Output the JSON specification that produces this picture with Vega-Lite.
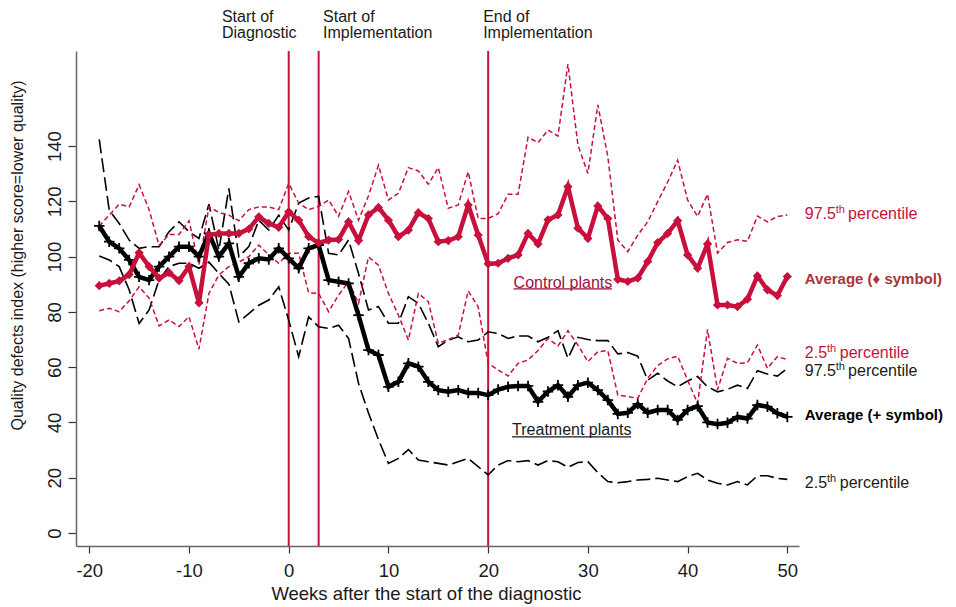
{
  "$schema": "https://vega.github.io/schema/vega-lite/v6.json",
  "width": 723,
  "height": 495,
  "autosize": {"type": "none"},
  "padding": {"left": 76, "top": 51, "right": 157, "bottom": 61},
  "background": "white",
  "config": {
    "font": "Liberation Sans",
    "view": {"stroke": null},
    "axis": {"grid": false}
  },
  "datasets": {
    "series": [
      {"week": -19, "ca": 89.5, "ch": 111, "cl": 80.4, "ta": 111.1, "th": 142.4, "tl": 100.2},
      {"week": -18, "ca": 90.3, "ch": 115, "cl": 81.3, "ta": 105.4, "th": 116.8, "tl": 98.8},
      {"week": -17, "ca": 91.2, "ch": 119, "cl": 80.1, "ta": 103, "th": 112, "tl": 96.4},
      {"week": -16, "ca": 93.5, "ch": 118, "cl": 84, "ta": 98.8, "th": 106, "tl": 88},
      {"week": -15, "ca": 101.4, "ch": 126, "cl": 89.1, "ta": 92.7, "th": 103, "tl": 75.8},
      {"week": -14, "ca": 96.4, "ch": 117, "cl": 85, "ta": 91.5, "th": 103.6, "tl": 80.7},
      {"week": -13, "ca": 92.2, "ch": 104, "cl": 74.9, "ta": 96.4, "th": 103.6, "tl": 91.5},
      {"week": -12, "ca": 94.2, "ch": 108, "cl": 77.1, "ta": 100, "th": 109, "tl": 96.4},
      {"week": -11, "ca": 91.3, "ch": 108, "cl": 74.7, "ta": 103.6, "th": 112.6, "tl": 97.6},
      {"week": -10, "ca": 96.4, "ch": 113, "cl": 78.3, "ta": 103.6, "th": 109, "tl": 97.6},
      {"week": -9, "ca": 83.3, "ch": 97, "cl": 66.5, "ta": 100, "th": 106.6, "tl": 95.8},
      {"week": -8, "ca": 107.8, "ch": 118, "cl": 86.7, "ta": 108.4, "th": 119, "tl": 98},
      {"week": -7, "ca": 108.4, "ch": 116, "cl": 93.4, "ta": 100, "th": 102.4, "tl": 93.9},
      {"week": -6, "ca": 108.4, "ch": 115, "cl": 96.4, "ta": 104.8, "th": 124.7, "tl": 90},
      {"week": -5, "ca": 108.4, "ch": 113, "cl": 98, "ta": 92.7, "th": 100, "tl": 76.4},
      {"week": -4, "ca": 110, "ch": 117, "cl": 100, "ta": 97.6, "th": 103.6, "tl": 79.4},
      {"week": -3, "ca": 114.4, "ch": 118, "cl": 104.2, "ta": 99.4, "th": 113.2, "tl": 82.4},
      {"week": -2, "ca": 112, "ch": 118, "cl": 100.6, "ta": 99, "th": 109.6, "tl": 84.3},
      {"week": -1, "ca": 110.6, "ch": 117, "cl": 97.6, "ta": 103, "th": 115, "tl": 89.1},
      {"week": 0, "ca": 116.2, "ch": 126.5, "cl": 101.2, "ta": 99.4, "th": 109.6, "tl": 77},
      {"week": 1, "ca": 113.2, "ch": 119.4, "cl": 101.2, "ta": 95.8, "th": 119.4, "tl": 63.8},
      {"week": 2, "ca": 107.2, "ch": 117, "cl": 86.9, "ta": 103, "th": 121.2, "tl": 78.2},
      {"week": 3, "ca": 105, "ch": 118.2, "cl": 86.7, "ta": 104.2, "th": 121.8, "tl": 74.6},
      {"week": 4, "ca": 106, "ch": 120.5, "cl": 80.1, "ta": 91.5, "th": 101.2, "tl": 74},
      {"week": 5, "ca": 106.2, "ch": 114.6, "cl": 86.1, "ta": 90.9, "th": 100.6, "tl": 75.2},
      {"week": 6, "ca": 112.6, "ch": 123.6, "cl": 90.9, "ta": 90.3, "th": 106, "tl": 70.4},
      {"week": 7, "ca": 105.8, "ch": 113.2, "cl": 83.1, "ta": 78.8, "th": 93.9, "tl": 54.2},
      {"week": 8, "ca": 115.1, "ch": 122, "cl": 99.9, "ta": 66.2, "th": 80.7, "tl": 43.4},
      {"week": 9, "ca": 117.8, "ch": 133.1, "cl": 96.9, "ta": 64.4, "th": 81.9, "tl": 33.8},
      {"week": 10, "ca": 113.2, "ch": 120.5, "cl": 86.7, "ta": 52.9, "th": 75.9, "tl": 25.2},
      {"week": 11, "ca": 107.2, "ch": 122.9, "cl": 78.8, "ta": 54.7, "th": 75.9, "tl": 27},
      {"week": 12, "ca": 109.6, "ch": 132.2, "cl": 69.8, "ta": 61.4, "th": 85.5, "tl": 30.2},
      {"week": 13, "ca": 115.9, "ch": 131, "cl": 86.7, "ta": 60.2, "th": 83.1, "tl": 26.4},
      {"week": 14, "ca": 113.8, "ch": 126.2, "cl": 83.7, "ta": 54.7, "th": 75.9, "tl": 25.8},
      {"week": 15, "ca": 105.4, "ch": 132.2, "cl": 68.6, "ta": 51.7, "th": 67.4, "tl": 25.2},
      {"week": 16, "ca": 105.8, "ch": 117.5, "cl": 70, "ta": 51.1, "th": 69.8, "tl": 24.6},
      {"week": 17, "ca": 107.2, "ch": 118.7, "cl": 71.6, "ta": 51.7, "th": 71, "tl": 25.8},
      {"week": 18, "ca": 118.7, "ch": 130.7, "cl": 87.6, "ta": 50.7, "th": 69.2, "tl": 27},
      {"week": 19, "ca": 107.8, "ch": 113.8, "cl": 81.8, "ta": 50.7, "th": 69.8, "tl": 24},
      {"week": 20, "ca": 97.4, "ch": 113.8, "cl": 61.4, "ta": 49.9, "th": 72.8, "tl": 21},
      {"week": 21, "ca": 97.6, "ch": 115.5, "cl": 59, "ta": 51.9, "th": 72.2, "tl": 24.6},
      {"week": 22, "ca": 99.4, "ch": 122.6, "cl": 56.8, "ta": 52.9, "th": 70.4, "tl": 26.2},
      {"week": 23, "ca": 100.6, "ch": 122.6, "cl": 61.4, "ta": 53.2, "th": 71.3, "tl": 25.8},
      {"week": 24, "ca": 108.4, "ch": 143.2, "cl": 62.6, "ta": 53.2, "th": 71.3, "tl": 26.2},
      {"week": 25, "ca": 104.6, "ch": 141.2, "cl": 66, "ta": 47.5, "th": 69.2, "tl": 24.6},
      {"week": 26, "ca": 113.3, "ch": 145.8, "cl": 70.4, "ta": 51.2, "th": 70.8, "tl": 26.2},
      {"week": 27, "ca": 115.1, "ch": 143.6, "cl": 67.7, "ta": 53.5, "th": 73.2, "tl": 25.8},
      {"week": 28, "ca": 125.3, "ch": 169.7, "cl": 73.2, "ta": 49.3, "th": 63.2, "tl": 23.8},
      {"week": 29, "ca": 110.3, "ch": 140.4, "cl": 68, "ta": 53.5, "th": 70.8, "tl": 25.5},
      {"week": 30, "ca": 106.6, "ch": 130.1, "cl": 62, "ta": 54.4, "th": 70, "tl": 25.8},
      {"week": 31, "ca": 118.3, "ch": 154.9, "cl": 65.6, "ta": 51.7, "th": 69.6, "tl": 21.8},
      {"week": 32, "ca": 113.8, "ch": 136.2, "cl": 66, "ta": 48.1, "th": 69.6, "tl": 18.6},
      {"week": 33, "ca": 91.8, "ch": 106, "cl": 49.9, "ta": 43.1, "th": 64.8, "tl": 18.2},
      {"week": 34, "ca": 91, "ch": 101.8, "cl": 49.4, "ta": 43.5, "th": 65.3, "tl": 18.6},
      {"week": 35, "ca": 92.2, "ch": 107.8, "cl": 48.7, "ta": 46.7, "th": 64, "tl": 19.2},
      {"week": 36, "ca": 98.2, "ch": 112.6, "cl": 56, "ta": 43.5, "th": 55.3, "tl": 19.4},
      {"week": 37, "ca": 105.1, "ch": 119.9, "cl": 60.6, "ta": 44.5, "th": 57.8, "tl": 19.8},
      {"week": 38, "ca": 108.4, "ch": 127, "cl": 63, "ta": 44.5, "th": 55, "tl": 19.2},
      {"week": 39, "ca": 113, "ch": 134.9, "cl": 64, "ta": 40.9, "th": 52.9, "tl": 18.6},
      {"week": 40, "ca": 100.6, "ch": 120.5, "cl": 55.3, "ta": 44.5, "th": 55, "tl": 20.4},
      {"week": 41, "ca": 95.8, "ch": 114.5, "cl": 46.9, "ta": 45.9, "th": 56.6, "tl": 21.6},
      {"week": 42, "ca": 104.6, "ch": 122.6, "cl": 73.7, "ta": 40, "th": 52.9, "tl": 19.2},
      {"week": 43, "ca": 82.5, "ch": 101.3, "cl": 51.8, "ta": 39.4, "th": 51.1, "tl": 18},
      {"week": 44, "ca": 82.5, "ch": 105.1, "cl": 63.2, "ta": 39.9, "th": 52, "tl": 17.4},
      {"week": 45, "ca": 81.9, "ch": 106.1, "cl": 61.4, "ta": 42, "th": 53.5, "tl": 18.6},
      {"week": 46, "ca": 84.6, "ch": 105.5, "cl": 61.6, "ta": 41.4, "th": 52.3, "tl": 17.4},
      {"week": 47, "ca": 93, "ch": 114.7, "cl": 68, "ta": 46.3, "th": 58.7, "tl": 20.7},
      {"week": 48, "ca": 88, "ch": 112.6, "cl": 59.6, "ta": 45.7, "th": 57.5, "tl": 20.7},
      {"week": 49, "ca": 85.9, "ch": 114.5, "cl": 63.8, "ta": 43.3, "th": 56.8, "tl": 19.8},
      {"week": 50, "ca": 92.8, "ch": 115.1, "cl": 62.8, "ta": 42, "th": 59.6, "tl": 19.4}
    ],
    "events": [{"x": 0}, {"x": 3}, {"x": 20}],
    "toplabels": [
      {"x": -6.7, "y": 184.9, "t": "Start of"},
      {"x": -6.7, "y": 179.1, "t": "Diagnostic"},
      {"x": 3.44, "y": 184.9, "t": "Start of"},
      {"x": 3.44, "y": 179.1, "t": "Implementation"},
      {"x": 19.5, "y": 184.9, "t": "End of"},
      {"x": 19.5, "y": 179.1, "t": "Implementation"}
    ],
    "pct": [
      {"x": 51.75, "y": 113.5, "num": "97.5", "grp": "c"},
      {"x": 51.75, "y": 63.4, "num": "2.5", "grp": "c"},
      {"x": 51.75, "y": 56.8, "num": "97.5", "grp": "t"},
      {"x": 51.75, "y": 16.2, "num": "2.5", "grp": "t"}
    ],
    "avg": [
      {"x": 51.75, "y": 90.0, "t": "Average (♦ symbol)", "grp": "c"},
      {"x": 51.75, "y": 40.9, "t": "Average (+ symbol)", "grp": "t"}
    ],
    "plants": [
      {"x": 22.55, "x2": 32.42, "y": 90.6, "yl": 88.3, "t": "Control plants", "grp": "c"},
      {"x": 22.4, "x2": 34.33, "y": 37.3, "yl": 34.8, "t": "Treatment plants", "grp": "t"}
    ]
  },
  "layer": [
    {
      "data": {"name": "events"},
      "mark": {"type": "rule", "color": "#c8103c", "strokeWidth": 2},
      "encoding": {
        "x": {"field": "x", "type": "quantitative", "scale": {"domain": [-21.33, 51.17], "nice": false, "zero": false}}
      }
    },
    {
      "data": {"name": "series"},
      "mark": {"type": "line", "color": "#000000", "strokeWidth": 1.6, "strokeDash": [14, 5]},
      "encoding": {
        "x": {"field": "week", "type": "quantitative", "scale": {"domain": [-21.33, 51.17], "nice": false, "zero": false},
          "axis": {"values": [-20, -10, 0, 10, 20, 30, 40, 50], "title": "Weeks after the start of the diagnostic",
            "labelExpr": "'' + datum.value",
            "titleFontSize": 18.5, "titleFontWeight": "normal", "titleColor": "#1a1a1a", "titleX": 350, "titleY": 53,
            "titleBaseline": "alphabetic", "titleAlign": "center", "titleAnchor": null,
            "labelFontSize": 18.5, "labelColor": "#1a1a1a", "labelPadding": 8, "labelFlush": false,
            "tickSize": 7, "tickColor": "#333333", "tickWidth": 1.2, "domainColor": "#666666", "domainWidth": 1.5}},
        "y": {"field": "tl", "type": "quantitative", "scale": {"domain": [-4.7, 174.4], "nice": false, "zero": false},
          "axis": {"values": [0, 20, 40, 60, 80, 100, 120, 140], "title": "Quality defects index (higher score=lower quality)",
            "titleFontSize": 16, "titleFontWeight": "normal", "titleColor": "#1a1a1a", "titleX": -58.5, "titleY": 204,
            "titleAlign": "center", "titleBaseline": "middle", "titleAngle": -90, "titleAnchor": null,
            "labelAngle": -90, "labelAlign": "center", "labelBaseline": "bottom", "labelFontSize": 18.5, "labelColor": "#1a1a1a",
            "labelPadding": 4, "labelFlush": false,
            "tickSize": 8, "tickColor": "#333333", "tickWidth": 1.2, "domainColor": "#666666", "domainWidth": 1.5}}
      }
    },
    {
      "data": {"name": "series"},
      "mark": {"type": "line", "color": "#000000", "strokeWidth": 1.6, "strokeDash": [14, 5]},
      "encoding": {
        "x": {"field": "week", "type": "quantitative", "scale": {"domain": [-21.33, 51.17], "nice": false, "zero": false}},
        "y": {"field": "th", "type": "quantitative", "scale": {"domain": [-4.7, 174.4], "nice": false, "zero": false}}
      }
    },
    {
      "data": {"name": "series"},
      "mark": {"type": "line", "color": "#c8103c", "strokeWidth": 1.5, "strokeDash": [5, 3]},
      "encoding": {
        "x": {"field": "week", "type": "quantitative", "scale": {"domain": [-21.33, 51.17], "nice": false, "zero": false}},
        "y": {"field": "cl", "type": "quantitative", "scale": {"domain": [-4.7, 174.4], "nice": false, "zero": false}}
      }
    },
    {
      "data": {"name": "series"},
      "mark": {"type": "line", "color": "#c8103c", "strokeWidth": 1.5, "strokeDash": [5, 3]},
      "encoding": {
        "x": {"field": "week", "type": "quantitative", "scale": {"domain": [-21.33, 51.17], "nice": false, "zero": false}},
        "y": {"field": "ch", "type": "quantitative", "scale": {"domain": [-4.7, 174.4], "nice": false, "zero": false}}
      }
    },
    {
      "data": {"name": "series"},
      "mark": {"type": "line", "color": "#000000", "strokeWidth": 4.5},
      "encoding": {
        "x": {"field": "week", "type": "quantitative", "scale": {"domain": [-21.33, 51.17], "nice": false, "zero": false}},
        "y": {"field": "ta", "type": "quantitative", "scale": {"domain": [-4.7, 174.4], "nice": false, "zero": false}}
      }
    },
    {
      "data": {"name": "series"},
      "mark": {"type": "point", "shape": "M-1,0L1,0M0,-1L0,1", "filled": false, "stroke": "#000000", "strokeWidth": 1.8, "size": 110, "opacity": 1},
      "encoding": {
        "x": {"field": "week", "type": "quantitative", "scale": {"domain": [-21.33, 51.17], "nice": false, "zero": false}},
        "y": {"field": "ta", "type": "quantitative", "scale": {"domain": [-4.7, 174.4], "nice": false, "zero": false}}
      }
    },
    {
      "data": {"name": "series"},
      "mark": {"type": "line", "color": "#c8103c", "strokeWidth": 4.5},
      "encoding": {
        "x": {"field": "week", "type": "quantitative", "scale": {"domain": [-21.33, 51.17], "nice": false, "zero": false}},
        "y": {"field": "ca", "type": "quantitative", "scale": {"domain": [-4.7, 174.4], "nice": false, "zero": false}}
      }
    },
    {
      "data": {"name": "series"},
      "mark": {"type": "point", "shape": "diamond", "filled": true, "color": "#c8103c", "size": 85, "opacity": 1},
      "encoding": {
        "x": {"field": "week", "type": "quantitative", "scale": {"domain": [-21.33, 51.17], "nice": false, "zero": false}},
        "y": {"field": "ca", "type": "quantitative", "scale": {"domain": [-4.7, 174.4], "nice": false, "zero": false}}
      }
    },
    {
      "data": {"name": "toplabels"},
      "mark": {"type": "text", "align": "left", "baseline": "alphabetic", "fontSize": 16, "color": "#1a1a1a"},
      "encoding": {
        "x": {"field": "x", "type": "quantitative", "scale": {"domain": [-21.33, 51.17], "nice": false, "zero": false}},
        "y": {"field": "y", "type": "quantitative", "scale": {"domain": [-4.7, 174.4], "nice": false, "zero": false}},
        "text": {"field": "t"}
      }
    },
    {
      "data": {"name": "pct"},
      "mark": {"type": "text", "align": "left", "baseline": "alphabetic", "fontSize": 16},
      "encoding": {
        "x": {"field": "x", "type": "quantitative", "scale": {"domain": [-21.33, 51.17], "nice": false, "zero": false}},
        "y": {"field": "y", "type": "quantitative", "scale": {"domain": [-4.7, 174.4], "nice": false, "zero": false}},
        "text": {"field": "num"},
        "color": {"condition": {"test": "datum.grp === 'c'", "value": "#c8103c"}, "value": "#1a1a1a"}
      }
    },
    {
      "data": {"name": "pct"},
      "transform": [{"filter": "datum.num === '97.5'"}],
      "mark": {"type": "text", "align": "left", "baseline": "alphabetic", "fontSize": 11, "dx": 31, "dy": -6, "text": "th"},
      "encoding": {
        "x": {"field": "x", "type": "quantitative", "scale": {"domain": [-21.33, 51.17], "nice": false, "zero": false}},
        "y": {"field": "y", "type": "quantitative", "scale": {"domain": [-4.7, 174.4], "nice": false, "zero": false}},
        "color": {"condition": {"test": "datum.grp === 'c'", "value": "#c8103c"}, "value": "#1a1a1a"}
      }
    },
    {
      "data": {"name": "pct"},
      "transform": [{"filter": "datum.num === '2.5'"}],
      "mark": {"type": "text", "align": "left", "baseline": "alphabetic", "fontSize": 11, "dx": 22.2, "dy": -6, "text": "th"},
      "encoding": {
        "x": {"field": "x", "type": "quantitative", "scale": {"domain": [-21.33, 51.17], "nice": false, "zero": false}},
        "y": {"field": "y", "type": "quantitative", "scale": {"domain": [-4.7, 174.4], "nice": false, "zero": false}},
        "color": {"condition": {"test": "datum.grp === 'c'", "value": "#c8103c"}, "value": "#1a1a1a"}
      }
    },
    {
      "data": {"name": "pct"},
      "transform": [{"filter": "datum.num === '97.5'"}],
      "mark": {"type": "text", "align": "left", "baseline": "alphabetic", "fontSize": 16, "dx": 43.3, "text": "percentile"},
      "encoding": {
        "x": {"field": "x", "type": "quantitative", "scale": {"domain": [-21.33, 51.17], "nice": false, "zero": false}},
        "y": {"field": "y", "type": "quantitative", "scale": {"domain": [-4.7, 174.4], "nice": false, "zero": false}},
        "color": {"condition": {"test": "datum.grp === 'c'", "value": "#c8103c"}, "value": "#1a1a1a"}
      }
    },
    {
      "data": {"name": "pct"},
      "transform": [{"filter": "datum.num === '2.5'"}],
      "mark": {"type": "text", "align": "left", "baseline": "alphabetic", "fontSize": 16, "dx": 35, "text": "percentile"},
      "encoding": {
        "x": {"field": "x", "type": "quantitative", "scale": {"domain": [-21.33, 51.17], "nice": false, "zero": false}},
        "y": {"field": "y", "type": "quantitative", "scale": {"domain": [-4.7, 174.4], "nice": false, "zero": false}},
        "color": {"condition": {"test": "datum.grp === 'c'", "value": "#c8103c"}, "value": "#1a1a1a"}
      }
    },
    {
      "data": {"name": "avg"},
      "mark": {"type": "text", "align": "left", "baseline": "alphabetic", "fontSize": 15, "fontWeight": "bold"},
      "encoding": {
        "x": {"field": "x", "type": "quantitative", "scale": {"domain": [-21.33, 51.17], "nice": false, "zero": false}},
        "y": {"field": "y", "type": "quantitative", "scale": {"domain": [-4.7, 174.4], "nice": false, "zero": false}},
        "text": {"field": "t"},
        "color": {"condition": {"test": "datum.grp === 'c'", "value": "#a8343c"}, "value": "#000000"}
      }
    },
    {
      "data": {"name": "plants"},
      "mark": {"type": "text", "align": "left", "baseline": "middle", "fontSize": 16},
      "encoding": {
        "x": {"field": "x", "type": "quantitative", "scale": {"domain": [-21.33, 51.17], "nice": false, "zero": false}},
        "y": {"field": "y", "type": "quantitative", "scale": {"domain": [-4.7, 174.4], "nice": false, "zero": false}},
        "text": {"field": "t"},
        "color": {"condition": {"test": "datum.grp === 'c'", "value": "#a01040"}, "value": "#1a1a1a"}
      }
    },
    {
      "data": {"name": "plants"},
      "mark": {"type": "rule", "strokeWidth": 1.3},
      "encoding": {
        "x": {"field": "x", "type": "quantitative", "scale": {"domain": [-21.33, 51.17], "nice": false, "zero": false}},
        "x2": {"field": "x2"},
        "y": {"field": "yl", "type": "quantitative", "scale": {"domain": [-4.7, 174.4], "nice": false, "zero": false}},
        "color": {"condition": {"test": "datum.grp === 'c'", "value": "#a01040"}, "value": "#1a1a1a"}
      }
    }
  ]
}
